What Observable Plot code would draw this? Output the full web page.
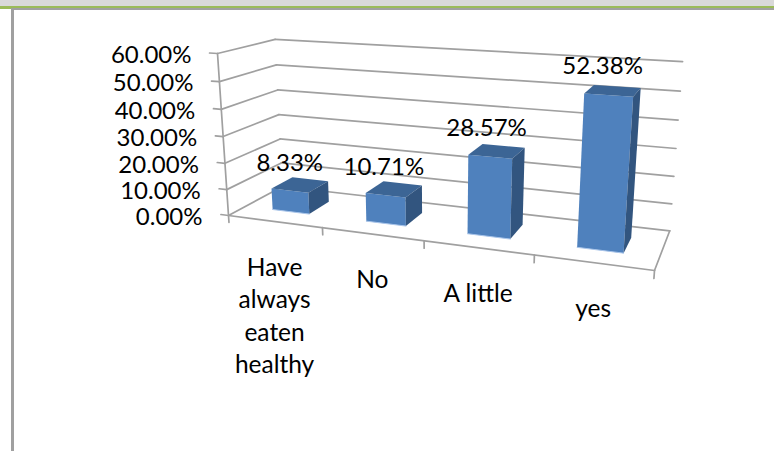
<!DOCTYPE html>
<html>
<head>
<meta charset="utf-8">
<script src="https://cdn.jsdelivr.net/npm/d3@7"></script>
<script src="https://cdn.jsdelivr.net/npm/@observablehq/plot@0.6"></script>
<style>
  html, body { margin: 0; padding: 0; background: #fff; overflow: hidden; }
  #page { position: relative; width: 774px; height: 451px; overflow: hidden; }
  .band { position: absolute; }
  #chart { position: absolute; left: 0; top: 0; }
</style>
</head>
<body>
<div id="page">
  <div class="band" style="left:0;top:0;width:774px;height:6px;background:#d9d9d9"></div>
  <div class="band" style="left:0;top:6px;width:774px;height:3px;background:#9bbb59"></div>
  <div class="band" style="left:11px;top:8px;width:763px;height:2px;background:#a0a0a0"></div>
  <div class="band" style="left:11px;top:8px;width:3px;height:443px;background:#a0a0a0"></div>
  <div id="chart"></div>
</div>
<script>
const categories = ["Have\nalways\neaten\nhealthy", "No", "A little", "yes"];
const shares = [8.33, 10.71, 28.57, 52.38];
const axisTicks = [0, 10, 20, 30, 40, 50, 60];

// Excel-style 3D view: a projective camera over the unit cube (u across, d into, v up)
const origin = [228, 215], endU = [654, 270], endD = [282, 186], endV = [217, 53];
const wU = 0.849, wD = 1.106, wV = 0.95;
const barWidth = 1 / categories.length * 0.4;
const depthFront = 0.3, depthBack = 0.7;
const labelSpread = 0.973;
const FONT = "Lato, Carlito, sans-serif";

function project(u, d, v) {
  const w = 1 + u * (wU - 1) + d * (wD - 1) + v * (wV - 1);
  const c = (i) => (origin[i] + u * (wU * endU[i] - origin[i]) + d * (wD * endD[i] - origin[i]) + v * (wV * endV[i] - origin[i])) / w;
  return [c(0), c(1)];
}
const vOf = (share) => share / 60;
const pt = (id, u, d, v) => { const [x, y] = project(u, d, v); return { id, x, y }; };
const seg = (id, a, b) => [pt(id, ...a), pt(id, ...b)];

// walls, floor and axes
const grid = [];
axisTicks.forEach((t) => {
  const v = vOf(t);
  grid.push(...seg(`back${t}`, [0, 1, v], [1, 1, v]));
  grid.push(...seg(`left${t}`, [0, 0, v], [0, 1, v]));
  grid.push(...seg(`tick${t}`, [-0.021, 0, v], [0, 0, v]));
});
grid.push(...seg("front", [0, 0, 0], [1, 0, 0]));
grid.push(...seg("side", [1, 0, 0], [1, 1, 0]));
grid.push(...seg("axis", [0, 0, 0], [0, 0, 1]));
categories.concat([""]).forEach((_, i) => {
  const u = i / categories.length;
  grid.push(...seg(`cat${i}`, [u, 0, 0], [u, 0, -0.045]));
});

// bar faces
const fronts = [], tops = [], sides = [], glints = [];
shares.forEach((s, i) => {
  const c = (i + 0.5) / categories.length;
  const u0 = c - barWidth / 2, u1 = c + barWidth / 2, v = vOf(s);
  [[u0, depthFront, 0], [u1, depthFront, 0], [u1, depthFront, v], [u0, depthFront, v]]
    .forEach((p) => fronts.push(pt(`f${i}`, ...p)));
  [[u0, depthFront, v], [u1, depthFront, v], [u1, depthBack, v], [u0, depthBack, v]]
    .forEach((p) => tops.push(pt(`t${i}`, ...p)));
  [[u1, depthFront, 0], [u1, depthBack, 0], [u1, depthBack, v], [u1, depthFront, v]]
    .forEach((p) => sides.push(pt(`s${i}`, ...p)));
  glints.push(...seg(`g${i}`, [u0, depthFront, 0], [u1, depthFront, 0]));
});

const tickLabels = axisTicks.map((t) => {
  const [x, y] = project(0, 0, vOf(t));
  return { x, y, text: `${t.toFixed(2)}%` };
});
const catLabels = categories.map((text, i) => {
  const [x, y] = project((i + 0.5) / categories.length, 0, 0);
  return { x, y, text };
});
const dataLabels = shares.map((s, i) => {
  const c = (i + 0.5) / categories.length;
  const [x, y] = project(0.5 + (c - 0.5) * labelSpread, depthFront - 0.1, vOf(s));
  return { x, y, text: `${s.toFixed(2)}%` };
});

const xy = { x: "x", y: "y" };
const chart = Plot.plot({
  width: 774,
  height: 451,
  margin: 0,
  x: { type: "identity", axis: null },
  y: { type: "identity", axis: null },
  style: { background: "transparent", overflow: "visible" },
  marks: [
    Plot.line(grid, { ...xy, z: "id", stroke: "#a0a0a0", strokeWidth: 1.7 }),
    Plot.line(fronts, { ...xy, z: "id", fill: "#4f81bd", stroke: null }),
    Plot.line(tops, { ...xy, z: "id", fill: "#3c6595", stroke: null }),
    Plot.line(sides, { ...xy, z: "id", fill: "#32557f", stroke: null }),
    Plot.line(glints, { ...xy, z: "id", stroke: "#a9c5ea", strokeWidth: 1 }),
    Plot.text(tickLabels, { ...xy, text: "text", textAnchor: "end", dx: -26, dy: 1.5, fontSize: 24, fontFamily: FONT, fill: "#000" }),
    Plot.text(catLabels, { ...xy, text: "text", textAnchor: "middle", lineAnchor: "top", lineHeight: 1.33, dy: 31, fontSize: 24.5, fontFamily: FONT, fill: "#000" }),
    Plot.text(dataLabels, { ...xy, text: "text", textAnchor: "middle", dx: 1.5, dy: -31, fontSize: 24, fontFamily: FONT, fill: "#000" })
  ]
});
document.getElementById("chart").appendChild(chart);
</script>
</body>
</html>
